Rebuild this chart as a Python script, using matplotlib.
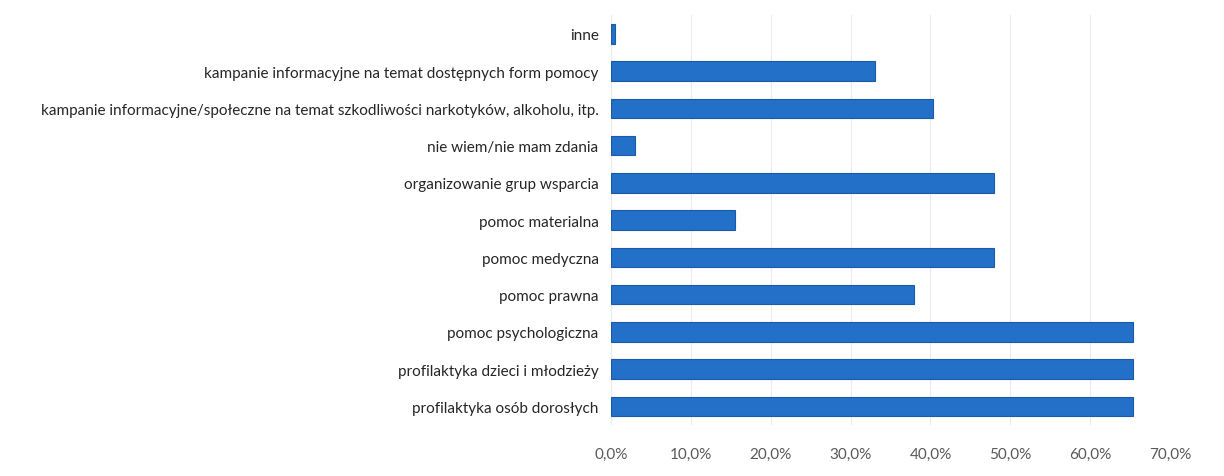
import matplotlib.pyplot as plt
from matplotlib.ticker import FuncFormatter

# kategorie od dołu do góry
kategorie = [
    "profilaktyka osób dorosłych",
    "profilaktyka dzieci i młodzieży",
    "pomoc psychologiczna",
    "pomoc prawna",
    "pomoc medyczna",
    "pomoc materialna",
    "organizowanie grup wsparcia",
    "nie wiem/nie mam zdania",
    "kampanie informacyjne/społeczne na temat szkodliwości narkotyków, alkoholu, itp.",
    "kampanie informacyjne na temat dostępnych form pomocy",
    "inne",
]
wartosci = [65.4, 65.4, 65.4, 37.9, 47.9, 15.5, 47.9, 3.0, 40.3, 33.0, 0.5]
ticki = [0, 10, 20, 30, 40, 50, 60, 70]

plt.rcParams['font.family'] = ['Lato', 'DejaVu Sans']

fig = plt.figure(figsize=(12.24, 4.77), dpi=100)
ax = fig.add_axes([0.4992, 0.107, 0.4567, 0.859])

ax.barh(range(len(kategorie)), wartosci, height=0.52,
        color='#2370C9', edgecolor='#1A5AA6', linewidth=0.8, zorder=3)

ax.set_xlim(0, 70)
ax.set_ylim(-0.5, len(kategorie) - 0.5)
ax.set_xticks(ticks=ticki)
ax.xaxis.set_major_formatter(FuncFormatter(lambda v, p: f"{v:.1f}%".replace('.', ',')))
ax.set_yticks(range(len(kategorie)))
ax.set_yticklabels(kategorie)

ax.grid(axis='x', color='#EBEBEB', linewidth=0.8, zorder=0)
for s in ax.spines.values():
    s.set_visible(False)

ax.tick_params(axis='y', length=0, pad=9, labelsize=11, labelcolor='#262626')
ax.tick_params(axis='x', length=0, pad=16, labelsize=11, labelcolor='#595959')

fig.savefig('out.png', dpi=100)
